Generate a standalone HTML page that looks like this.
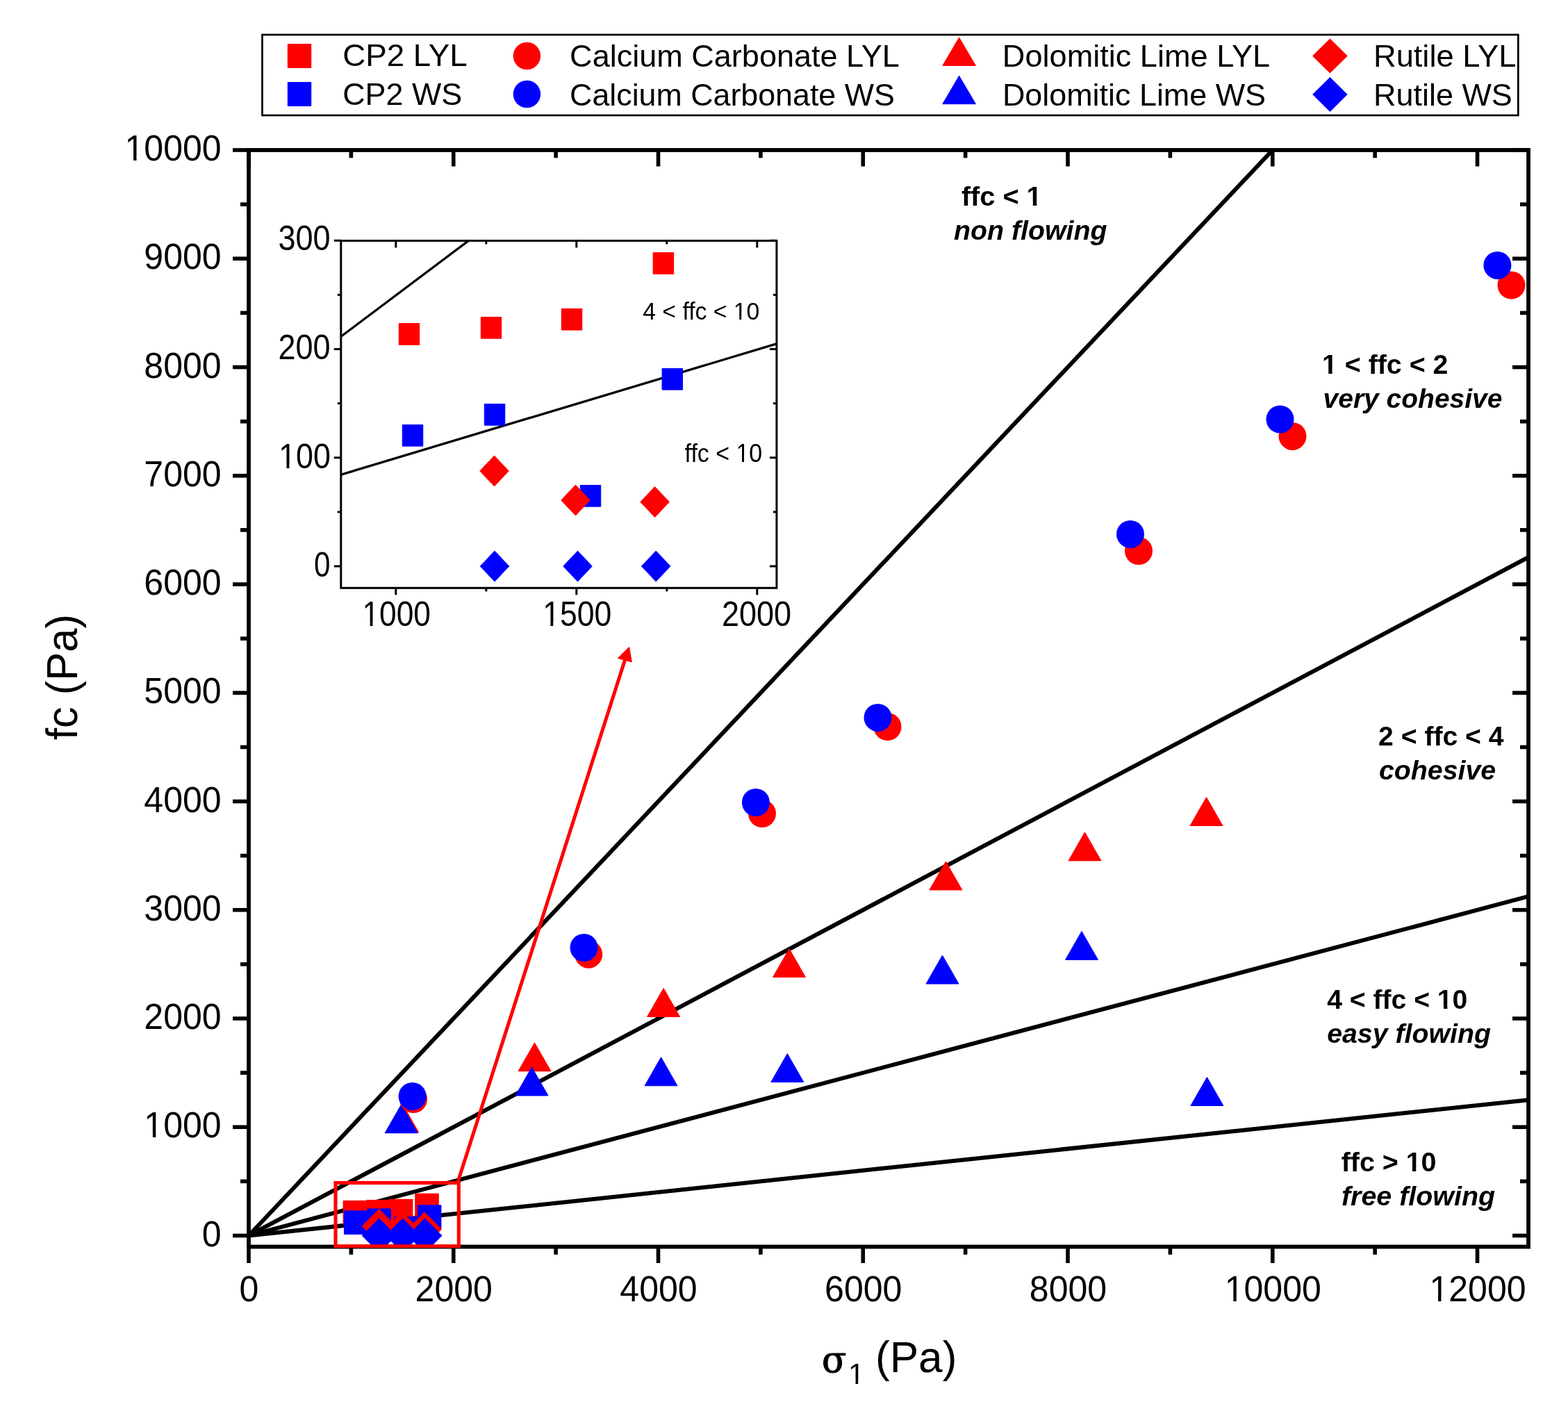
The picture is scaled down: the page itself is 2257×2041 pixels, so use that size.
<!DOCTYPE html>
<html><head><meta charset="utf-8"><title>Flow function chart</title><style>html,body{margin:0;padding:0;background:#fff;}svg{display:block;}</style></head><body>
<svg width="2257" height="2041" viewBox="0 0 2257 2041" font-family="'Liberation Sans', Arial, Helvetica, sans-serif">
<rect width="2257" height="2041" fill="#ffffff"/>
<defs><clipPath id="cm"><rect x="358" y="216" width="1842" height="1578.5"/></clipPath><clipPath id="ci"><rect x="490.8" y="346.5" width="627.1" height="499.8"/></clipPath></defs>
<rect x="377.5" y="50" width="1807.8" height="116" fill="none" stroke="#000" stroke-width="2.7"/>
<rect x="414.25" y="63.5" width="33.5" height="34" fill="#ff0000" stroke="#ff0000" stroke-width="1" stroke-linejoin="round"/>
<rect x="414.25" y="118.5" width="33.5" height="34" fill="#0000ff" stroke="#0000ff" stroke-width="1" stroke-linejoin="round"/>
<circle cx="758.4" cy="80.5" r="19.75" fill="#ff0000"/>
<circle cx="758.4" cy="135.5" r="19.75" fill="#0000ff"/>
<polygon points="1380.6,53.95 1404.4,94.45 1356.8,94.45" fill="#ff0000" stroke="#ff0000" stroke-width="1" stroke-linejoin="round"/>
<polygon points="1380.6,109.15 1404.4,149.65 1356.8,149.65" fill="#0000ff" stroke="#0000ff" stroke-width="1" stroke-linejoin="round"/>
<polygon points="1914.4,56 1939.15,80.5 1914.4,105 1889.65,80.5" fill="#ff0000" stroke="#ff0000" stroke-width="1" stroke-linejoin="round"/>
<polygon points="1914.4,111.4 1939.15,135.9 1914.4,160.4 1889.65,135.9" fill="#0000ff" stroke="#0000ff" stroke-width="1" stroke-linejoin="round"/>
<g clip-path="url(#cm)" stroke="#000" stroke-width="6" fill="none">
<line x1="358" y1="1778.5" x2="2200.19" y2="-174.62"/>
<line x1="358" y1="1778.5" x2="2200.19" y2="801.94"/>
<line x1="358" y1="1778.5" x2="2200.19" y2="1290.22"/>
<line x1="358" y1="1778.5" x2="2200.19" y2="1583.19"/>
</g>
<g clip-path="url(#cm)">
<rect x="494.07" y="1728.34" width="33.5" height="33.5" fill="#ff0000" stroke="#ff0000" stroke-width="1" stroke-linejoin="round"/>
<rect x="527.51" y="1727.43" width="33.5" height="33.5" fill="#ff0000" stroke="#ff0000" stroke-width="1" stroke-linejoin="round"/>
<rect x="560.39" y="1726.22" width="33.5" height="33.5" fill="#ff0000" stroke="#ff0000" stroke-width="1" stroke-linejoin="round"/>
<rect x="597.77" y="1718.15" width="33.5" height="33.5" fill="#ff0000" stroke="#ff0000" stroke-width="1" stroke-linejoin="round"/>
<rect x="495.48" y="1742.93" width="33.5" height="33.5" fill="#0000ff" stroke="#0000ff" stroke-width="1" stroke-linejoin="round"/>
<rect x="528.93" y="1739.93" width="33.5" height="33.5" fill="#0000ff" stroke="#0000ff" stroke-width="1" stroke-linejoin="round"/>
<rect x="568.04" y="1751.63" width="33.5" height="33.5" fill="#0000ff" stroke="#0000ff" stroke-width="1" stroke-linejoin="round"/>
<rect x="601.42" y="1734.82" width="33.5" height="33.5" fill="#0000ff" stroke="#0000ff" stroke-width="1" stroke-linejoin="round"/>
<polygon points="579.3,1589 602.8,1630 555.8,1630" fill="#ff0000" stroke="#ff0000" stroke-width="1" stroke-linejoin="round"/>
<polygon points="769.5,1500.8 793,1541.8 746,1541.8" fill="#ff0000" stroke="#ff0000" stroke-width="1" stroke-linejoin="round"/>
<polygon points="955.1,1422.4 978.6,1463.4 931.6,1463.4" fill="#ff0000" stroke="#ff0000" stroke-width="1" stroke-linejoin="round"/>
<polygon points="1136,1365.5 1159.5,1406.5 1112.5,1406.5" fill="#ff0000" stroke="#ff0000" stroke-width="1" stroke-linejoin="round"/>
<polygon points="1361.4,1240 1384.9,1281 1337.9,1281" fill="#ff0000" stroke="#ff0000" stroke-width="1" stroke-linejoin="round"/>
<polygon points="1561.5,1197.9 1585,1238.9 1538,1238.9" fill="#ff0000" stroke="#ff0000" stroke-width="1" stroke-linejoin="round"/>
<polygon points="1736.5,1147.5 1760,1188.5 1713,1188.5" fill="#ff0000" stroke="#ff0000" stroke-width="1" stroke-linejoin="round"/>
<polygon points="577.6,1589.8 601.1,1630.8 554.1,1630.8" fill="#0000ff" stroke="#0000ff" stroke-width="1" stroke-linejoin="round"/>
<polygon points="765.5,1536 789,1577 742,1577" fill="#0000ff" stroke="#0000ff" stroke-width="1" stroke-linejoin="round"/>
<polygon points="951.5,1521.8 975,1562.8 928,1562.8" fill="#0000ff" stroke="#0000ff" stroke-width="1" stroke-linejoin="round"/>
<polygon points="1133.3,1516.5 1156.8,1557.5 1109.8,1557.5" fill="#0000ff" stroke="#0000ff" stroke-width="1" stroke-linejoin="round"/>
<polygon points="1356.5,1375.1 1380,1416.1 1333,1416.1" fill="#0000ff" stroke="#0000ff" stroke-width="1" stroke-linejoin="round"/>
<polygon points="1557,1340.5 1580.5,1381.5 1533.5,1381.5" fill="#0000ff" stroke="#0000ff" stroke-width="1" stroke-linejoin="round"/>
<polygon points="1737.4,1550.5 1760.9,1591.5 1713.9,1591.5" fill="#0000ff" stroke="#0000ff" stroke-width="1" stroke-linejoin="round"/>
<circle cx="595" cy="1582" r="20" fill="#ff0000"/>
<circle cx="847.2" cy="1373.7" r="20" fill="#ff0000"/>
<circle cx="1097" cy="1171" r="20" fill="#ff0000"/>
<circle cx="1277.5" cy="1046" r="20" fill="#ff0000"/>
<circle cx="1639" cy="793" r="20" fill="#ff0000"/>
<circle cx="1860.5" cy="627.9" r="20" fill="#ff0000"/>
<circle cx="2175.5" cy="410.5" r="20" fill="#ff0000"/>
<circle cx="593.6" cy="1578" r="20" fill="#0000ff"/>
<circle cx="840.5" cy="1364" r="20" fill="#0000ff"/>
<circle cx="1087.9" cy="1155" r="20" fill="#0000ff"/>
<circle cx="1263.5" cy="1032.9" r="20" fill="#0000ff"/>
<circle cx="1627" cy="768.9" r="20" fill="#0000ff"/>
<circle cx="1842.5" cy="603.5" r="20" fill="#0000ff"/>
<circle cx="2155.4" cy="381.9" r="20" fill="#0000ff"/>
<polygon points="545.53,1740.29 570.03,1764.79 545.53,1789.29 521.03,1764.79" fill="#ff0000" stroke="#ff0000" stroke-width="1" stroke-linejoin="round"/>
<polygon points="578.69,1744.5 603.19,1769 578.69,1793.5 554.19,1769" fill="#ff0000" stroke="#ff0000" stroke-width="1" stroke-linejoin="round"/>
<polygon points="611.03,1744.75 635.53,1769.25 611.03,1793.75 586.53,1769.25" fill="#ff0000" stroke="#ff0000" stroke-width="1" stroke-linejoin="round"/>
<polygon points="545.68,1754 570.18,1778.5 545.68,1803 521.18,1778.5" fill="#0000ff" stroke="#0000ff" stroke-width="1" stroke-linejoin="round"/>
<polygon points="579.54,1754 604.04,1778.5 579.54,1803 555.04,1778.5" fill="#0000ff" stroke="#0000ff" stroke-width="1" stroke-linejoin="round"/>
<polygon points="611.49,1754 635.99,1778.5 611.49,1803 586.99,1778.5" fill="#0000ff" stroke="#0000ff" stroke-width="1" stroke-linejoin="round"/>
</g>
<g stroke="#000" stroke-width="5.6" fill="none" stroke-linecap="butt"><line x1="358" y1="1794.5" x2="358" y2="1818"/><line x1="358" y1="216" x2="358" y2="239.5"/><line x1="505.38" y1="1794.5" x2="505.38" y2="1805.8"/><line x1="505.38" y1="216" x2="505.38" y2="227.3"/><line x1="652.75" y1="1794.5" x2="652.75" y2="1818"/><line x1="652.75" y1="216" x2="652.75" y2="239.5"/><line x1="800.12" y1="1794.5" x2="800.12" y2="1805.8"/><line x1="800.12" y1="216" x2="800.12" y2="227.3"/><line x1="947.5" y1="1794.5" x2="947.5" y2="1818"/><line x1="947.5" y1="216" x2="947.5" y2="239.5"/><line x1="1094.88" y1="1794.5" x2="1094.88" y2="1805.8"/><line x1="1094.88" y1="216" x2="1094.88" y2="227.3"/><line x1="1242.25" y1="1794.5" x2="1242.25" y2="1818"/><line x1="1242.25" y1="216" x2="1242.25" y2="239.5"/><line x1="1389.62" y1="1794.5" x2="1389.62" y2="1805.8"/><line x1="1389.62" y1="216" x2="1389.62" y2="227.3"/><line x1="1537" y1="1794.5" x2="1537" y2="1818"/><line x1="1537" y1="216" x2="1537" y2="239.5"/><line x1="1684.38" y1="1794.5" x2="1684.38" y2="1805.8"/><line x1="1684.38" y1="216" x2="1684.38" y2="227.3"/><line x1="1831.75" y1="1794.5" x2="1831.75" y2="1818"/><line x1="1831.75" y1="216" x2="1831.75" y2="239.5"/><line x1="1979.12" y1="1794.5" x2="1979.12" y2="1805.8"/><line x1="1979.12" y1="216" x2="1979.12" y2="227.3"/><line x1="2126.5" y1="1794.5" x2="2126.5" y2="1818"/><line x1="2126.5" y1="216" x2="2126.5" y2="239.5"/><line x1="335" y1="1778.5" x2="358" y2="1778.5"/><line x1="2200" y1="1778.5" x2="2177" y2="1778.5"/><line x1="346" y1="1700.38" x2="358" y2="1700.38"/><line x1="2200" y1="1700.38" x2="2188" y2="1700.38"/><line x1="335" y1="1622.25" x2="358" y2="1622.25"/><line x1="2200" y1="1622.25" x2="2177" y2="1622.25"/><line x1="346" y1="1544.12" x2="358" y2="1544.12"/><line x1="2200" y1="1544.12" x2="2188" y2="1544.12"/><line x1="335" y1="1466" x2="358" y2="1466"/><line x1="2200" y1="1466" x2="2177" y2="1466"/><line x1="346" y1="1387.88" x2="358" y2="1387.88"/><line x1="2200" y1="1387.88" x2="2188" y2="1387.88"/><line x1="335" y1="1309.75" x2="358" y2="1309.75"/><line x1="2200" y1="1309.75" x2="2177" y2="1309.75"/><line x1="346" y1="1231.62" x2="358" y2="1231.62"/><line x1="2200" y1="1231.62" x2="2188" y2="1231.62"/><line x1="335" y1="1153.5" x2="358" y2="1153.5"/><line x1="2200" y1="1153.5" x2="2177" y2="1153.5"/><line x1="346" y1="1075.38" x2="358" y2="1075.38"/><line x1="2200" y1="1075.38" x2="2188" y2="1075.38"/><line x1="335" y1="997.25" x2="358" y2="997.25"/><line x1="2200" y1="997.25" x2="2177" y2="997.25"/><line x1="346" y1="919.12" x2="358" y2="919.12"/><line x1="2200" y1="919.12" x2="2188" y2="919.12"/><line x1="335" y1="841" x2="358" y2="841"/><line x1="2200" y1="841" x2="2177" y2="841"/><line x1="346" y1="762.88" x2="358" y2="762.88"/><line x1="2200" y1="762.88" x2="2188" y2="762.88"/><line x1="335" y1="684.75" x2="358" y2="684.75"/><line x1="2200" y1="684.75" x2="2177" y2="684.75"/><line x1="346" y1="606.62" x2="358" y2="606.62"/><line x1="2200" y1="606.62" x2="2188" y2="606.62"/><line x1="335" y1="528.5" x2="358" y2="528.5"/><line x1="2200" y1="528.5" x2="2177" y2="528.5"/><line x1="346" y1="450.38" x2="358" y2="450.38"/><line x1="2200" y1="450.38" x2="2188" y2="450.38"/><line x1="335" y1="372.25" x2="358" y2="372.25"/><line x1="2200" y1="372.25" x2="2177" y2="372.25"/><line x1="346" y1="294.12" x2="358" y2="294.12"/><line x1="2200" y1="294.12" x2="2188" y2="294.12"/><line x1="335" y1="216" x2="358" y2="216"/><line x1="2200" y1="216" x2="2177" y2="216"/><rect x="358" y="216" width="1842" height="1578.5" stroke-width="5.8"/></g>
<text transform="translate(358.50,1873.20) scale(0.975,1)" font-size="51.3" text-anchor="middle" id="tx0">0</text>
<text transform="translate(653.25,1873.20) scale(0.975,1)" font-size="51.3" text-anchor="middle" id="tx2">2000</text>
<text transform="translate(948.00,1873.20) scale(0.975,1)" font-size="51.3" text-anchor="middle" id="tx4">4000</text>
<text transform="translate(1242.75,1873.20) scale(0.975,1)" font-size="51.3" text-anchor="middle" id="tx6">6000</text>
<text transform="translate(1537.50,1873.20) scale(0.975,1)" font-size="51.3" text-anchor="middle" id="tx8">8000</text>
<text transform="translate(1832.25,1873.20) scale(0.975,1)" font-size="51.3" text-anchor="middle" id="tx10" clip-path="url(#ktx10)">10000</text>
<text transform="translate(2127.00,1873.20) scale(0.975,1)" font-size="51.3" text-anchor="middle" id="tx12" clip-path="url(#ktx12)">12000</text>
<text transform="translate(318.60,1793.50) scale(0.975,1)" font-size="51.3" text-anchor="end" id="ty0">0</text>
<text transform="translate(318.60,1637.25) scale(0.975,1)" font-size="51.3" text-anchor="end" id="ty1" clip-path="url(#kty1)">1000</text>
<text transform="translate(318.60,1481.00) scale(0.975,1)" font-size="51.3" text-anchor="end" id="ty2">2000</text>
<text transform="translate(318.60,1324.75) scale(0.975,1)" font-size="51.3" text-anchor="end" id="ty3">3000</text>
<text transform="translate(318.60,1168.50) scale(0.975,1)" font-size="51.3" text-anchor="end" id="ty4">4000</text>
<text transform="translate(318.60,1012.25) scale(0.975,1)" font-size="51.3" text-anchor="end" id="ty5">5000</text>
<text transform="translate(318.60,856.00) scale(0.975,1)" font-size="51.3" text-anchor="end" id="ty6">6000</text>
<text transform="translate(318.60,699.75) scale(0.975,1)" font-size="51.3" text-anchor="end" id="ty7">7000</text>
<text transform="translate(318.60,543.50) scale(0.975,1)" font-size="51.3" text-anchor="end" id="ty8">8000</text>
<text transform="translate(318.60,387.25) scale(0.975,1)" font-size="51.3" text-anchor="end" id="ty9">9000</text>
<text transform="translate(318.60,231.00) scale(0.975,1)" font-size="51.3" text-anchor="end" id="ty10" clip-path="url(#kty10)">10000</text>
<text transform="translate(493.20,95.00) scale(1.0157,1.0000)" font-size="45" font-weight="normal" font-style="normal" id="c_lg1">CP2 LYL</text>
<text transform="translate(493.25,151.00) scale(0.9966,1.0000)" font-size="45" font-weight="normal" font-style="normal" id="c_lg2">CP2 WS</text>
<text transform="translate(820.10,96.00) scale(1.0010,1.0000)" font-size="45" font-weight="normal" font-style="normal" id="c_lg3">Calcium Carbonate LYL</text>
<text transform="translate(820.12,152.00) scale(0.9948,1.0000)" font-size="45" font-weight="normal" font-style="normal" id="c_lg4">Calcium Carbonate WS</text>
<text transform="translate(1442.87,96.00) scale(1.0026,1.0000)" font-size="45" font-weight="normal" font-style="normal" id="c_lg5">Dolomitic Lime LYL</text>
<text transform="translate(1442.92,152.00) scale(0.9974,1.0000)" font-size="45" font-weight="normal" font-style="normal" id="c_lg6">Dolomitic Lime WS</text>
<text transform="translate(1976.98,96.00) scale(1.0051,1.0000)" font-size="45" font-weight="normal" font-style="normal" id="c_lg7">Rutile LYL</text>
<text transform="translate(1977.04,152.00) scale(0.9990,1.0000)" font-size="45" font-weight="normal" font-style="normal" id="c_lg8">Rutile WS</text>
<text transform="translate(1383.89,295.90) scale(1.0046,1.0000)" font-size="39.5" font-weight="bold" font-style="normal" id="c_a1" clip-path="url(#kc_a1)">ffc &lt; 1</text>
<text transform="translate(1372.90,345.00) scale(0.9956,1.0000)" font-size="39.5" font-weight="bold" font-style="italic" id="c_a2">non flowing</text>
<text transform="translate(1903.04,537.90) scale(0.9953,1.0000)" font-size="39.5" font-weight="bold" font-style="normal" id="c_a3" clip-path="url(#kc_a3)">1 &lt; ffc &lt; 2</text>
<text transform="translate(1904.57,586.80) scale(0.9871,1.0000)" font-size="39.5" font-weight="bold" font-style="italic" id="c_a4">very cohesive</text>
<text transform="translate(1984.01,1073.10) scale(0.9911,1.0000)" font-size="39.5" font-weight="bold" font-style="normal" id="c_a5">2 &lt; ffc &lt; 4</text>
<text transform="translate(1984.99,1121.70) scale(0.9952,1.0000)" font-size="39.5" font-weight="bold" font-style="italic" id="c_a6">cohesive</text>
<text transform="translate(1910.20,1452.10) scale(0.9901,1.0000)" font-size="39.5" font-weight="bold" font-style="normal" id="c_a7" clip-path="url(#kc_a7)">4 &lt; ffc &lt; 10</text>
<text transform="translate(1910.19,1501.10) scale(0.9947,1.0000)" font-size="39.5" font-weight="bold" font-style="italic" id="c_a8">easy flowing</text>
<text transform="translate(1930.67,1686.00) scale(0.9974,1.0000)" font-size="39.5" font-weight="bold" font-style="normal" id="c_a9" clip-path="url(#kc_a9)">ffc &gt; 10</text>
<text transform="translate(1930.97,1734.90) scale(0.9976,1.0000)" font-size="39.5" font-weight="bold" font-style="italic" id="c_a10">free flowing</text>
<text transform="translate(1183.04,1974.50) scale(0.9772,1.0000)" font-size="53" font-weight="normal" font-style="normal" font-family="'DejaVu Serif', 'Liberation Serif', serif" stroke="#000" stroke-width="1.1" id="c_txs">&#963;</text>
<text transform="translate(1220.90,1991.70) scale(1.0000,1.0000)" font-size="42" font-weight="normal" font-style="normal" id="c_tx1" clip-path="url(#kc_tx1)">1</text>
<text transform="translate(1260.03,1975.20) scale(0.9856,1.0000)" font-size="63" font-weight="normal" font-style="normal" id="c_txp">(Pa)</text>
<text transform="translate(110.90,1065.08) rotate(-90) scale(0.9759,1.0000)" font-size="63" font-weight="normal" font-style="normal" id="c_ty">fc (Pa)</text>
<rect x="483" y="1702.5" width="177.3" height="91.2" fill="none" stroke="#ff0000" stroke-width="5.1"/>
<line x1="658.6" y1="1702.5" x2="901.1" y2="945" stroke="#ff0000" stroke-width="5"/>
<polygon points="905.5,931.9 890,947.4 909,952.6" fill="#ff0000" stroke="#ff0000" stroke-width="1.5" stroke-linejoin="round"/>
<rect x="490.8" y="346.5" width="627.1" height="499.8" fill="#fff"/>
<g clip-path="url(#ci)" stroke="#000" stroke-width="3.3" fill="none">
<line x1="486.6" y1="487.57" x2="1121" y2="11.01"/>
<line x1="486.6" y1="684.45" x2="1121" y2="493.82"/>
</g>
<g clip-path="url(#ci)">
<rect x="574.25" y="465.55" width="29.5" height="30.7" fill="#ff0000" stroke="#ff0000" stroke-width="1" stroke-linejoin="round"/>
<rect x="692.25" y="456.45" width="29.5" height="30.7" fill="#ff0000" stroke="#ff0000" stroke-width="1" stroke-linejoin="round"/>
<rect x="808.25" y="444.35" width="29.5" height="30.7" fill="#ff0000" stroke="#ff0000" stroke-width="1" stroke-linejoin="round"/>
<rect x="940.15" y="363.65" width="29.5" height="30.7" fill="#ff0000" stroke="#ff0000" stroke-width="1" stroke-linejoin="round"/>
<rect x="579.25" y="611.45" width="29.5" height="30.7" fill="#0000ff" stroke="#0000ff" stroke-width="1" stroke-linejoin="round"/>
<rect x="697.25" y="581.45" width="29.5" height="30.7" fill="#0000ff" stroke="#0000ff" stroke-width="1" stroke-linejoin="round"/>
<rect x="835.25" y="698.45" width="29.5" height="30.7" fill="#0000ff" stroke="#0000ff" stroke-width="1" stroke-linejoin="round"/>
<rect x="953.05" y="530.35" width="29.5" height="30.7" fill="#0000ff" stroke="#0000ff" stroke-width="1" stroke-linejoin="round"/>
<polygon points="711.5,655.9 732.25,677.9 711.5,699.9 690.75,677.9" fill="#ff0000" stroke="#ff0000" stroke-width="1" stroke-linejoin="round"/>
<polygon points="828.5,698 849.25,720 828.5,742 807.75,720" fill="#ff0000" stroke="#ff0000" stroke-width="1" stroke-linejoin="round"/>
<polygon points="942.6,700.5 963.35,722.5 942.6,744.5 921.85,722.5" fill="#ff0000" stroke="#ff0000" stroke-width="1" stroke-linejoin="round"/>
<polygon points="712,793 732.75,815 712,837 691.25,815" fill="#0000ff" stroke="#0000ff" stroke-width="1" stroke-linejoin="round"/>
<polygon points="831.5,793 852.25,815 831.5,837 810.75,815" fill="#0000ff" stroke="#0000ff" stroke-width="1" stroke-linejoin="round"/>
<polygon points="944.2,793 964.95,815 944.2,837 923.45,815" fill="#0000ff" stroke="#0000ff" stroke-width="1" stroke-linejoin="round"/>
</g>
<g stroke="#000" stroke-width="3" fill="none"><line x1="569.8" y1="846.3" x2="569.8" y2="856.3"/><line x1="569.8" y1="346.5" x2="569.8" y2="356.5"/><line x1="699.8" y1="846.3" x2="699.8" y2="851.3"/><line x1="699.8" y1="346.5" x2="699.8" y2="351.5"/><line x1="829.8" y1="846.3" x2="829.8" y2="856.3"/><line x1="829.8" y1="346.5" x2="829.8" y2="356.5"/><line x1="959.8" y1="846.3" x2="959.8" y2="851.3"/><line x1="959.8" y1="346.5" x2="959.8" y2="351.5"/><line x1="1089.8" y1="846.3" x2="1089.8" y2="856.3"/><line x1="1089.8" y1="346.5" x2="1089.8" y2="356.5"/><line x1="480.8" y1="815" x2="490.8" y2="815"/><line x1="1117.9" y1="815" x2="1107.9" y2="815"/><line x1="485.8" y1="736.88" x2="490.8" y2="736.88"/><line x1="1117.9" y1="736.88" x2="1112.9" y2="736.88"/><line x1="480.8" y1="658.75" x2="490.8" y2="658.75"/><line x1="1117.9" y1="658.75" x2="1107.9" y2="658.75"/><line x1="485.8" y1="580.62" x2="490.8" y2="580.62"/><line x1="1117.9" y1="580.62" x2="1112.9" y2="580.62"/><line x1="480.8" y1="502.5" x2="490.8" y2="502.5"/><line x1="1117.9" y1="502.5" x2="1107.9" y2="502.5"/><line x1="485.8" y1="424.38" x2="490.8" y2="424.38"/><line x1="1117.9" y1="424.38" x2="1112.9" y2="424.38"/><line x1="480.8" y1="346.25" x2="490.8" y2="346.25"/><line x1="1117.9" y1="346.25" x2="1107.9" y2="346.25"/><rect x="490.8" y="346.5" width="627.1" height="499.8"/></g>
<text transform="translate(925.26,459.90) scale(0.9367,1.0000)" font-size="36" font-weight="normal" font-style="normal" id="c_i1" clip-path="url(#kc_i1)">4 &lt; ffc &lt; 10</text>
<text transform="translate(985.62,664.80) scale(0.9425,1.0000)" font-size="36" font-weight="normal" font-style="normal" id="c_i2" clip-path="url(#kc_i2)">ffc &lt; 10</text>
<text transform="translate(400.57,360.40) scale(0.9050,1.0000)" font-size="49.7" font-weight="normal" font-style="normal" id="c_iy300">300</text>
<text transform="translate(400.55,517.20) scale(0.9056,1.0000)" font-size="49.7" font-weight="normal" font-style="normal" id="c_iy200">200</text>
<text transform="translate(401.20,674.10) scale(0.9003,1.0000)" font-size="49.7" font-weight="normal" font-style="normal" id="c_iy100" clip-path="url(#kc_iy100)">100</text>
<text transform="translate(451.98,829.90) scale(0.8492,1.0000)" font-size="49.7" font-weight="normal" font-style="normal" id="c_iy0">0</text>
<text transform="translate(521.47,900.80) scale(0.8907,1.0000)" font-size="49.7" font-weight="normal" font-style="normal" id="c_ix1000" clip-path="url(#kc_ix1000)">1000</text>
<text transform="translate(781.14,901.10) scale(0.8964,1.0000)" font-size="49.7" font-weight="normal" font-style="normal" id="c_ix1500" clip-path="url(#kc_ix1500)">1500</text>
<text transform="translate(1039.02,901.10) scale(0.9056,1.0000)" font-size="49.7" font-weight="normal" font-style="normal" id="c_ix2000">2000</text>
<defs><clipPath id="ktx10"><path clip-rule="evenodd" d="M-5000,-5000H5000V5000H-5000ZM-69.42,-5.13H-58.42V2.00H-69.42ZM-53.89,-5.13H-43.30V2.00H-53.89Z"/></clipPath><clipPath id="ktx12"><path clip-rule="evenodd" d="M-5000,-5000H5000V5000H-5000ZM-69.42,-5.13H-58.42V2.00H-69.42ZM-53.89,-5.13H-43.30V2.00H-53.89Z"/></clipPath><clipPath id="kty1"><path clip-rule="evenodd" d="M-5000,-5000H5000V5000H-5000ZM-112.21,-5.13H-101.22V2.00H-112.21ZM-96.69,-5.13H-86.09V2.00H-96.69Z"/></clipPath><clipPath id="kty10"><path clip-rule="evenodd" d="M-5000,-5000H5000V5000H-5000ZM-140.74,-5.13H-129.75V2.00H-140.74ZM-125.21,-5.13H-114.62V2.00H-125.21Z"/></clipPath><clipPath id="kc_a1"><path clip-rule="evenodd" d="M-5000,-5000H5000V5000H-5000ZM93.73,-5.33H102.46V2.00H93.73ZM107.88,-5.33H116.11V2.00H107.88Z"/></clipPath><clipPath id="kc_a3"><path clip-rule="evenodd" d="M-5000,-5000H5000V5000H-5000ZM0.49,-5.33H9.22V2.00H0.49ZM14.64,-5.33H22.87V2.00H14.64Z"/></clipPath><clipPath id="kc_a7"><path clip-rule="evenodd" d="M-5000,-5000H5000V5000H-5000ZM160.72,-5.33H169.45V2.00H160.72ZM174.87,-5.33H183.10V2.00H174.87Z"/></clipPath><clipPath id="kc_a9"><path clip-rule="evenodd" d="M-5000,-5000H5000V5000H-5000ZM93.76,-5.33H102.49V2.00H93.76ZM107.91,-5.33H116.14V2.00H107.91Z"/></clipPath><clipPath id="kc_tx1"><path clip-rule="evenodd" d="M-5000,-5000H5000V5000H-5000ZM1.20,-4.44H10.56V2.00H1.20ZM14.27,-4.44H23.31V2.00H14.27Z"/></clipPath><clipPath id="kc_i1"><path clip-rule="evenodd" d="M-5000,-5000H5000V5000H-5000ZM140.09,-3.99H148.40V2.00H140.09ZM151.59,-3.99H159.62V2.00H151.59Z"/></clipPath><clipPath id="kc_i2"><path clip-rule="evenodd" d="M-5000,-5000H5000V5000H-5000ZM79.08,-3.99H87.39V2.00H79.08ZM90.57,-3.99H98.60V2.00H90.57Z"/></clipPath><clipPath id="kc_iy100"><path clip-rule="evenodd" d="M-5000,-5000H5000V5000H-5000ZM1.79,-5.01H12.50V2.00H1.79ZM16.89,-5.01H27.21V2.00H16.89Z"/></clipPath><clipPath id="kc_ix1000"><path clip-rule="evenodd" d="M-5000,-5000H5000V5000H-5000ZM1.79,-5.01H12.50V2.00H1.79ZM16.89,-5.01H27.21V2.00H16.89Z"/></clipPath><clipPath id="kc_ix1500"><path clip-rule="evenodd" d="M-5000,-5000H5000V5000H-5000ZM1.79,-5.01H12.50V2.00H1.79ZM16.89,-5.01H27.21V2.00H16.89Z"/></clipPath></defs>
</svg>
</body></html>
